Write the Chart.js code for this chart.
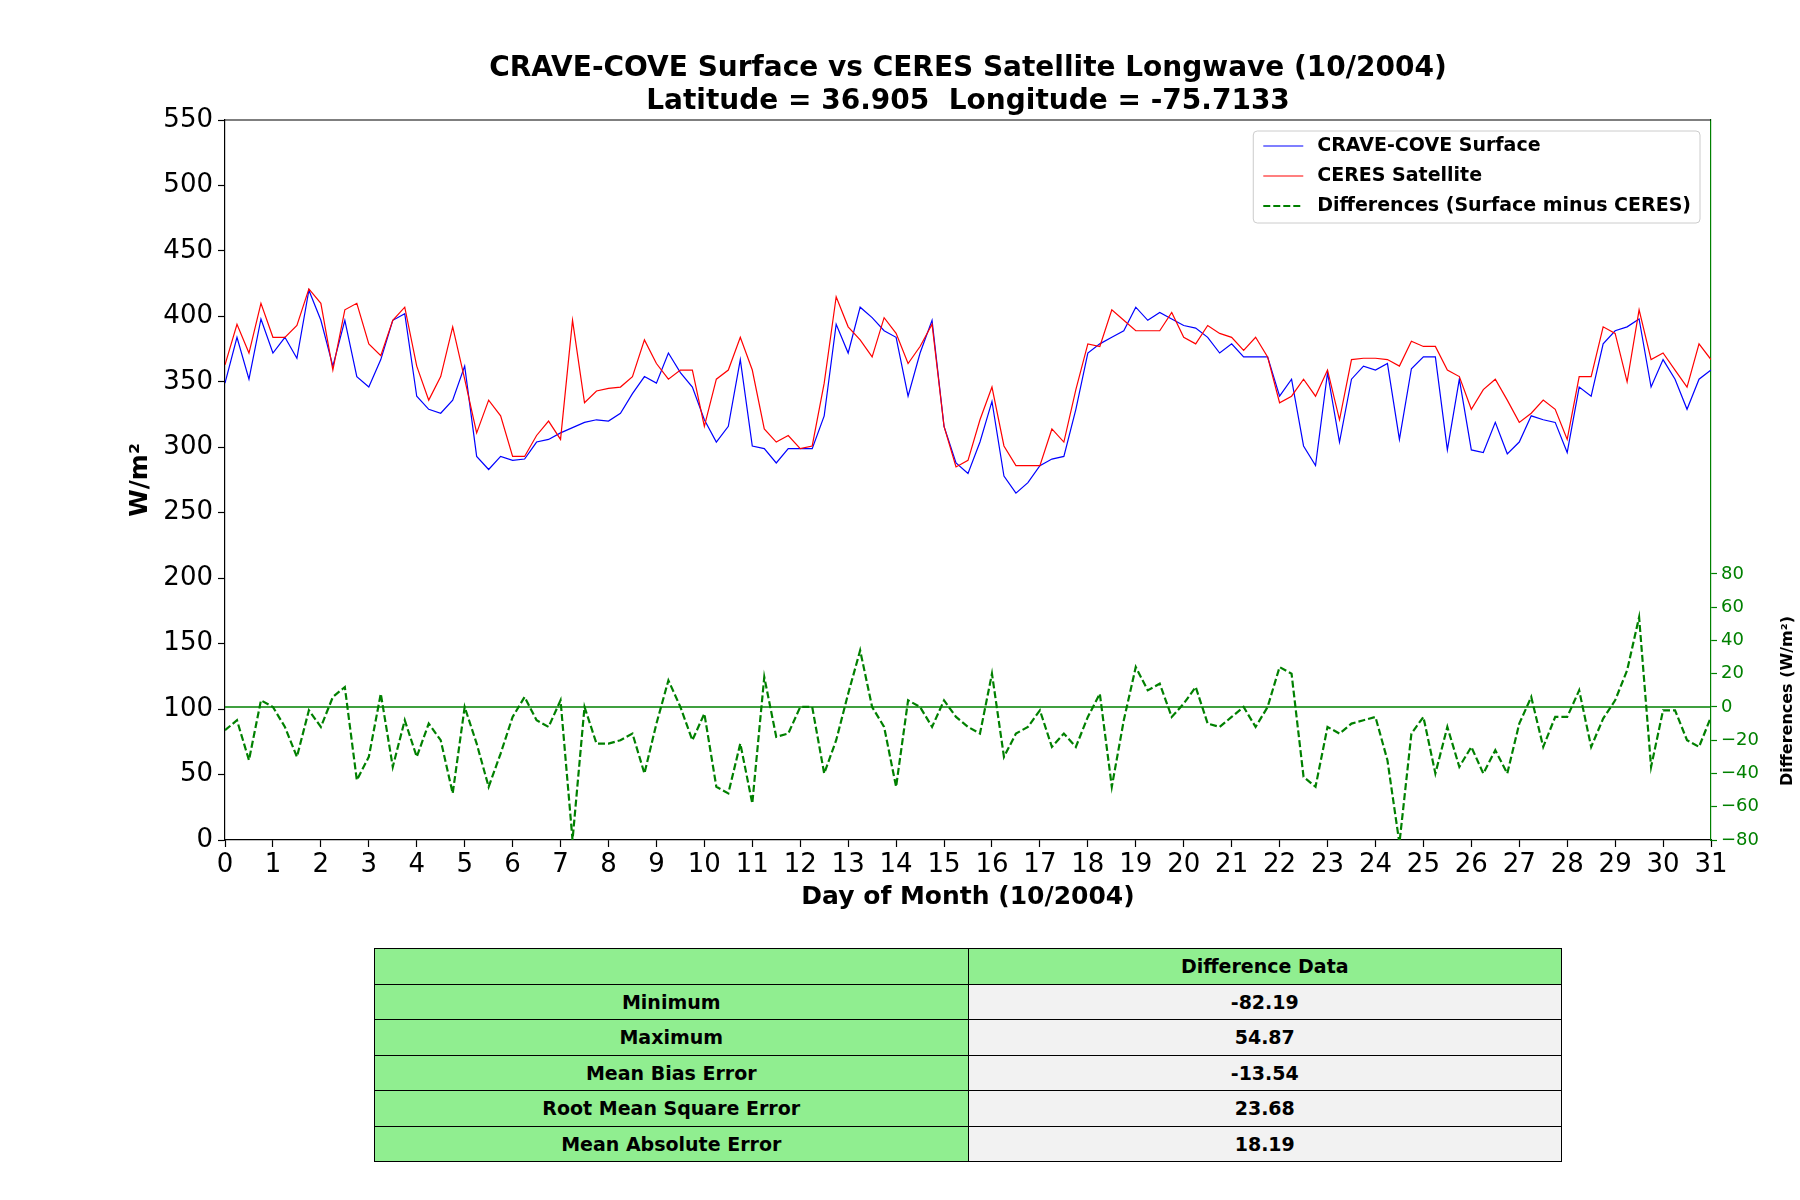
<!DOCTYPE html>
<html>
<head>
<meta charset="utf-8">
<script src="https://cdn.jsdelivr.net/npm/chart.js@4.4.0/dist/chart.umd.min.js"></script>
<style>
body { margin: 0; background: #fff; width: 1800px; height: 1200px; position: relative; font-family: "DejaVu Sans", sans-serif; }
#grafico { position: absolute; left: 0; top: 0; }
#stats { position: absolute; left: 374px; top: 948px; width: 1188px; border-collapse: collapse; font-weight: bold; font-size: 19px; color: #000; }
#stats tr { height: 35.5px; }
#stats td { border: 1.5px solid #000; padding: 0; text-align: center; width: 50%; }
#stats td.verde { background: #90ee90; }
#stats td.cinza { background: #f2f2f2; }
</style>
</head>
<body>
<canvas id="grafico" width="1800" height="940"></canvas>
<table id="stats"></table>
<script>
// 6-hourly readings, day 0 .. day 31 (4 values per day)
const passo = 0.25;

const superficie = [
    349, 384, 352, 398,  372, 384, 368, 420,
    397, 362, 397, 354,  346, 367, 397, 402,
    339, 329, 326, 336,  362, 293, 283, 293,
    290, 291, 304, 306,  311, 315, 319, 321,
    320, 326, 341, 354,  349, 372, 357, 346,
    321, 304, 316, 367,  301, 299, 288, 299,
    299, 299, 324, 394,  372, 407, 399, 389,
    384, 339, 372, 397,  316, 288, 280, 304,
    335, 278, 265, 273,  286, 291, 293, 329,
    372, 379, 384, 389,  407, 397, 403, 398,
    393, 391, 384, 372,  379, 369, 369, 369,
    339, 352, 301, 286,  357, 304, 352, 362,
    359, 364, 306, 360,  369, 369, 298, 352,
    298, 296, 319, 295,  304, 324, 321, 319,
    296, 346, 339, 379,  389, 392, 398, 346,
    367, 352, 329, 352,  359
];

const ceres = [
    363, 394, 372, 410,  384, 384, 393, 421,
    410, 359, 405, 410,  379, 370, 397, 407,
    362, 336, 354, 392,  352, 311, 336, 324,
    293, 293, 309, 320,  306, 397, 334, 343,
    345, 346, 354, 382,  364, 352, 359, 359,
    316, 352, 359, 384,  359, 314, 304, 309,
    299, 301, 349, 415,  392, 382, 369, 399,
    387, 364, 377, 394,  316, 285, 290, 321,
    346, 301, 286, 286,  286, 314, 304, 344,
    379, 377, 405, 397,  389, 389, 389, 403,
    384, 379, 393, 387,  384, 374, 384, 369,
    334, 339, 352, 339,  359, 321, 367, 368,
    368, 367, 362, 381,  377, 377, 359, 354,
    329, 344, 352, 336,  319, 326, 336, 329,
    306, 354, 354, 392,  387, 350, 405, 367,
    372, 359, 346, 379,  367
];

const diferencas = [
    -14,  -8, -32,   4,    0, -12, -30,  -2,
    -12,   6,  12, -44,  -30,   8, -36,  -8,
    -30, -10, -20, -52,    0, -22, -48, -28,
     -6,   6,  -8, -12,    4, -80,   0, -22,
    -22, -20, -16, -40,  -10,  16,   0, -20,
     -4, -48, -52, -22,  -58,  18, -18, -16,
      0,   0, -40, -20,    8,  34,   0, -12,
    -48,   4,   0, -12,    4,  -6, -12, -16,
     20, -30, -16, -12,   -2, -24, -16, -24,
     -6,   8, -48,  -8,   24,  10,  14,  -6,
      2,  12, -10, -12,   -6,   0, -12,   0,
     24,  20, -42, -48,  -12, -16, -10,  -8,
     -6, -32, -82, -16,   -6, -40, -12, -36,
    -24, -40, -26, -40,  -10,   6, -24,  -6,
     -6,  10, -24,  -7,    4,  22,  54, -36,
     -2,  -2, -20, -24,   -6
];

const legendas = ['CRAVE-COVE Surface', 'CERES Satellite', 'Differences (Surface minus CERES)'];
const cores = ['#0000ff', '#ff0000', '#008000'];

const rotulosTabela = ['Minimum', 'Maximum', 'Mean Bias Error', 'Root Mean Square Error', 'Mean Absolute Error'];
const valoresTabela = ['-82.19', '54.87', '-13.54', '23.68', '18.19'];

function pontos(valores) {
    return valores.map((v, i) => ({ x: i * passo, y: v }));
}

function formatarMenos(v) {
    return v < 0 ? '\u2212' + Math.abs(v) : String(v);
}

const FONTE = '"DejaVu Sans", sans-serif';
Chart.defaults.font.family = FONTE;

const decoracao = {
    id: 'decoracao',
    afterDraw(chart) {
        const c = chart.ctx;
        const area = chart.chartArea;
        const meio = (area.left + area.right) / 2;
        c.save();

        // linha superior do quadro
        c.strokeStyle = '#000';
        c.lineWidth = 1.2;
        c.beginPath();
        c.moveTo(area.left, area.top);
        c.lineTo(area.right, area.top);
        c.stroke();

        // titulo
        c.fillStyle = '#000';
        c.textAlign = 'center';
        c.textBaseline = 'middle';
        c.font = 'bold 28px ' + FONTE;
        c.fillText('CRAVE-COVE Surface vs CERES Satellite Longwave (10/2004)', meio, 69);
        c.fillText('Latitude = 36.905  Longitude = -75.7133', meio, 102);

        // titulo do eixo x
        c.font = 'bold 25px ' + FONTE;
        c.fillText('Day of Month (10/2004)', meio, area.bottom + 57);

        // titulo do eixo y esquerdo
        c.save();
        c.translate(140, (area.top + area.bottom) / 2);
        c.rotate(-Math.PI / 2);
        c.font = 'bold 25px ' + FONTE;
        c.fillText('W/m\u00b2', 0, 0);
        c.restore();

        // titulo do eixo y direito
        const y2 = chart.scales.y2;
        c.save();
        c.translate(1788, y2.getPixelForValue(0) - 6);
        c.rotate(-Math.PI / 2);
        c.font = 'bold 16px ' + FONTE;
        c.fillText('Differences (W/m\u00b2)', 0, 0);
        c.restore();

        // legenda
        c.font = 'bold 19px ' + FONTE;
        const largTexto = Math.max(...legendas.map(t => c.measureText(t).width));
        const direita = area.right - 11;
        const xTexto = direita - 9 - largTexto;
        const xLinha = xTexto - 54;
        const topo = area.top + 11;
        const altura = 92;
        c.fillStyle = 'rgba(255,255,255,0.85)';
        c.strokeStyle = '#cccccc';
        c.lineWidth = 1;
        c.beginPath();
        c.roundRect(xLinha - 10, topo, direita - (xLinha - 10), altura, 4);
        c.fill();
        c.stroke();
        legendas.forEach((texto, i) => {
            const y = topo + 15 + i * 30;
            c.strokeStyle = cores[i];
            c.lineWidth = i === 2 ? 2 : 1.2;
            c.setLineDash(i === 2 ? [7, 3] : []);
            c.beginPath();
            c.moveTo(xLinha, y);
            c.lineTo(xLinha + 40, y);
            c.stroke();
            c.setLineDash([]);
            c.fillStyle = '#000';
            c.textAlign = 'left';
            c.fillText(texto, xTexto, y);
        });

        c.restore();
    }
};

const ctx = document.getElementById('grafico').getContext('2d');
const grafico = new Chart(ctx, {
    type: 'line',
    data: {
        datasets: [
            {
                label: legendas[0],
                data: pontos(superficie),
                borderColor: cores[0],
                borderWidth: 1.2,
                yAxisID: 'y',
                order: 4
            },
            {
                label: legendas[1],
                data: pontos(ceres),
                borderColor: cores[1],
                borderWidth: 1.2,
                yAxisID: 'y',
                order: 3
            },
            {
                label: 'zero',
                data: [{ x: 0, y: 0 }, { x: 31, y: 0 }],
                borderColor: cores[2],
                borderWidth: 1.5,
                yAxisID: 'y2',
                order: 2
            },
            {
                label: legendas[2],
                data: pontos(diferencas),
                borderColor: cores[2],
                borderWidth: 2.2,
                borderDash: [7, 3],
                yAxisID: 'y2',
                order: 1
            }
        ]
    },
    options: {
        responsive: false,
        animation: false,
        devicePixelRatio: 1,
        layout: { padding: { top: 120, left: 0, right: 0, bottom: 0 } },
        elements: { point: { radius: 0 }, line: { tension: 0, fill: false } },
        plugins: {
            legend: { display: false },
            tooltip: { enabled: false },
            title: { display: false }
        },
        scales: {
            x: {
                type: 'linear',
                min: 0,
                max: 31,
                ticks: { stepSize: 1, color: '#000', font: { size: 26 }, padding: 3, maxRotation: 0, autoSkip: false },
                grid: { drawOnChartArea: false, tickLength: 7, tickColor: '#000', tickWidth: 1.2 },
                border: { color: '#000', width: 1.2 },
                afterFit: s => { s.height = 100; }
            },
            y: {
                position: 'left',
                min: 0,
                max: 550,
                ticks: { stepSize: 50, color: '#000', font: { size: 26 }, padding: 5 },
                grid: { drawOnChartArea: false, tickLength: 7, tickColor: '#000', tickWidth: 1.2 },
                border: { color: '#000', width: 1.2 },
                afterFit: s => { s.width = 225; }
            },
            y2: {
                position: 'right',
                min: -80,
                max: 353,
                ticks: { stepSize: 20, color: '#008000', font: { size: 18 }, padding: 4, callback: v => formatarMenos(v) },
                grid: { drawOnChartArea: false, tickLength: 6, tickColor: '#008000', tickWidth: 1.2 },
                border: { color: '#008000', width: 1.2 },
                afterBuildTicks: s => { s.ticks = s.ticks.filter(t => t.value <= 80); },
                afterFit: s => { s.width = 89; }
            }
        }
    },
    plugins: [decoracao]
});

function montarTabela() {
    const tabela = document.getElementById('stats');
    let html = '<tr><td class="verde"></td><td class="verde">Difference Data</td></tr>';
    rotulosTabela.forEach((rotulo, i) => {
        html += `<tr><td class="verde">${rotulo}</td><td class="cinza">${valoresTabela[i]}</td></tr>`;
    });
    tabela.innerHTML = html;
}

montarTabela();
</script>
</body>
</html>
